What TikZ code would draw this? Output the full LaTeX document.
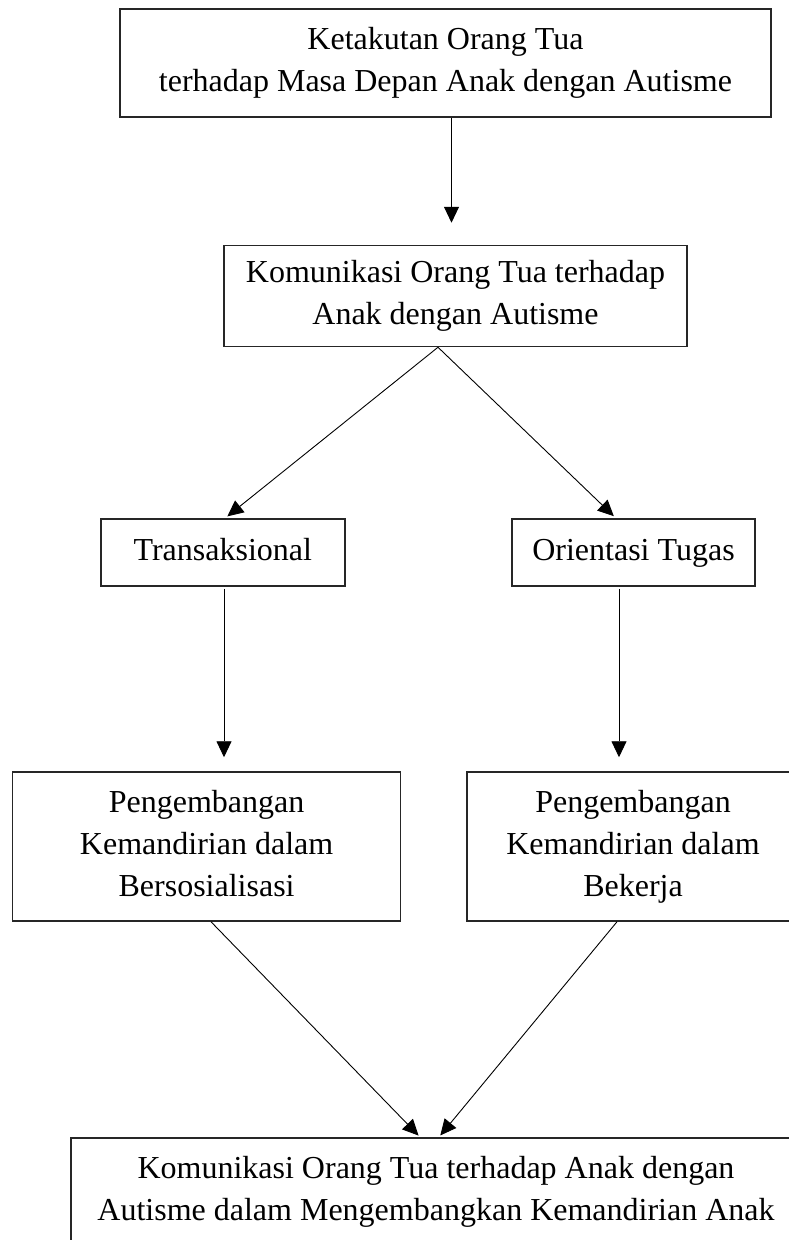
\documentclass[tikz,border=0pt]{standalone}
\usepackage{fontspec}
\setmainfont{Liberation Serif}
\usetikzlibrary{arrows.meta}
\tikzset{
  kotak/.style={draw=black!85, line width=1.5pt, align=center, inner sep=0pt,
    font=\fontsize{32}{42}\selectfont},
  satubaris/.style={text height=22pt, text depth=7pt},
  panah/.style={line width=0.9pt, -{Triangle[length=16pt,width=15pt]}}
}
\begin{document}
\begin{tikzpicture}[x=1pt,y=-1pt]
				\useasboundingbox (0,0) rectangle (789,1240);
				
				\node[kotak, minimum width=651pt, minimum height=108pt] (takut) at (445.5,63)
					{Ketakutan Orang Tua\\terhadap Masa Depan Anak dengan Autisme};
				\node[kotak, minimum width=463pt, minimum height=101pt] (komunikasi) at (455.5,296)
					{Komunikasi Orang Tua terhadap\\Anak dengan Autisme};
				\node[kotak, satubaris, minimum width=244pt, minimum height=67pt] (transaksi) at (222.8,552.5)
					{Transaksional};
				\node[kotak, satubaris, minimum width=243pt, minimum height=67pt] (tugas) at (633.5,552.5)
					{Orientasi Tugas};
				\node[kotak, text depth=7pt, minimum width=388pt, minimum height=149pt] (sosial) at (206.6,846.5)
					{Pengembangan\\Kemandirian dalam\\Bersosialisasi};
				\node[kotak, text depth=7pt, minimum width=332pt, minimum height=149pt] (kerja) at (633,846.5)
					{Pengembangan\\Kemandirian dalam\\Bekerja};
				\node[kotak, minimum width=730pt, inner ysep=19pt, text depth=150pt, anchor=north] (hasil) at (436,1137)
					{Komunikasi Orang Tua terhadap Anak dengan\\Autisme dalam Mengembangkan Kemandirian Anak};
				
				\draw[panah, shorten >=22pt] ([xshift=6pt]takut.south) -- ([xshift=6pt]takut.south |- komunikasi.north);
				\draw[panah, shorten >=3pt] ([xshift=-17.5pt]komunikasi.south) -- ([xshift=2.2pt]transaksi.north);
				\draw[panah, shorten >=3pt] ([xshift=-17.5pt]komunikasi.south) -- ([xshift=-17.5pt]tugas.north);
				\draw[panah, shorten <=2pt, shorten >=14pt] ([xshift=1.2pt]transaksi.south) -- ([xshift=1.2pt]transaksi.south |- sosial.north);
				\draw[panah, shorten <=2pt, shorten >=14pt] ([xshift=-14.5pt]tugas.south) -- ([xshift=-14.5pt]tugas.south |- kerja.north);
				\draw[panah, shorten >=2pt] ([xshift=4.4pt]sosial.south) -- ([xshift=-16pt]hasil.north);
				\draw[panah, shorten >=2pt] ([xshift=-16pt]kerja.south) -- ([xshift=3pt]hasil.north);
			\end{tikzpicture}
\end{document}
